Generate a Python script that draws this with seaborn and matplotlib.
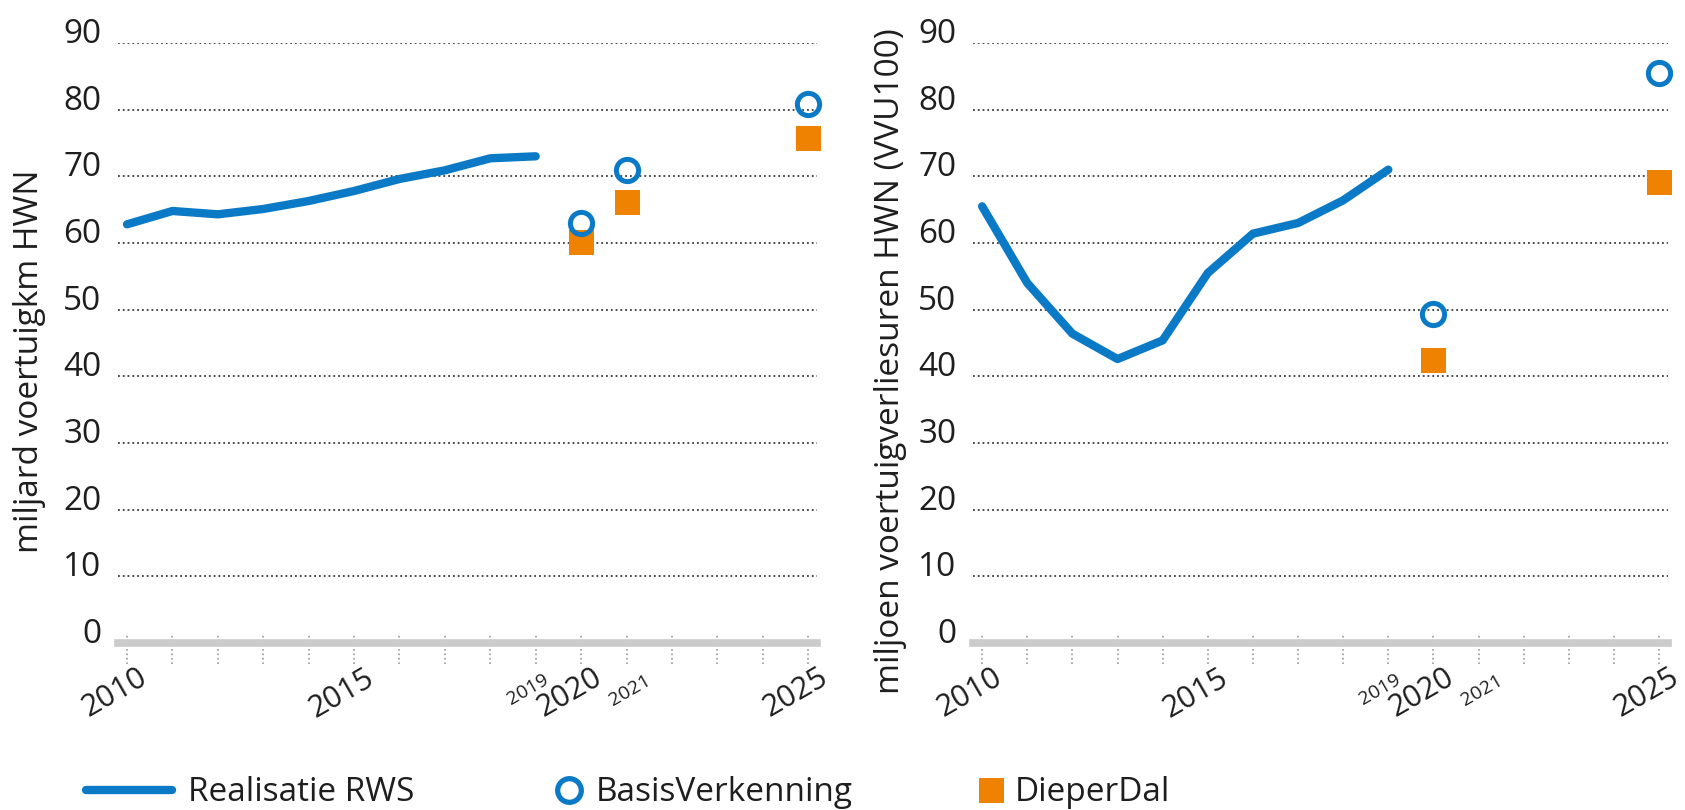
import matplotlib
matplotlib.use('Agg')
import matplotlib.pyplot as plt
import seaborn as sns
from matplotlib.lines import Line2D
from matplotlib.transforms import ScaledTranslation, blended_transform_factory

# realised values 2010-2019
years_real = list(range(2010, 2020))
km_real = [62.8, 64.8, 64.3, 65.1, 66.3, 67.8, 69.6, 70.9, 72.7, 73.0]
vvu_real = [65.5, 54.0, 46.4, 42.6, 45.4, 55.5, 61.4, 63.0, 66.4, 71.0]

# scenario values
km_scen_years = [2020, 2021, 2025]
km_basis = [63.0, 70.9, 80.8]
km_dieper = [60.2, 66.1, 75.8]

vvu_scen_years = [2020, 2025]
vvu_basis = [49.3, 85.5]
vvu_dieper = [42.5, 69.2]

all_years = list(range(2010, 2026))
big_ticks = [2010, 2015, 2020, 2025]
small_ticks = [2019, 2021]
y_ticks = list(range(0, 91, 10))

BLUE = '#0a7ac6'
ORANGE = '#ef8200'
TEXT = '#1e1e1e'

sns.set_theme(style='white')
plt.rcParams['font.family'] = ['Open Sans', 'DejaVu Sans']

fig = plt.figure(figsize=(16.85, 8.10), dpi=100)
ax1 = fig.add_axes([0.070, 0.206, 0.415, 0.741])
ax2 = fig.add_axes([0.5775, 0.206, 0.4125, 0.741])


def draw_panel(ax, real, scen_years, basis, dieper, ylabel, label_x):
    sns.lineplot(x=years_real, y=real, ax=ax, color=BLUE, lw=6,
                 solid_capstyle='round', solid_joinstyle='round', zorder=3)
    sns.lineplot(x=scen_years, y=dieper, ax=ax, marker='s', linestyle='',
                 color=ORANGE, markersize=18, markeredgewidth=0,
                 zorder=4, clip_on=False)
    sns.lineplot(x=scen_years, y=basis, ax=ax, marker='o', linestyle='',
                 color=BLUE, markerfacecolor='none', markeredgecolor=BLUE,
                 markersize=16, markeredgewidth=3.6, zorder=5, clip_on=False)

    ax.set_xlim(2009.8, 2025.2)
    ax.set_ylim(0, 90)
    ax.set_yticks(y_ticks)
    ax.yaxis.grid(True, ls=':', color='#3a3a3a', lw=1.3)
    ax.xaxis.grid(False)
    ax.set_axisbelow(True)
    for s in ['left', 'top', 'right']:
        ax.spines[s].set_visible(False)
    ax.spines['bottom'].set_color('#cbcbcb')
    ax.spines['bottom'].set_linewidth(5.5)

    ax.tick_params(axis='y', length=0, pad=12, labelsize=24, labelcolor=TEXT)
    for lbl in ax.get_yticklabels():
        lbl.set_va('baseline')

    ax.set_xticks(big_ticks)
    ax.set_xticklabels([str(t) for t in big_ticks], rotation=30,
                       ha='center', va='center')
    ax.tick_params(axis='x', length=0, pad=36, labelsize=22, labelcolor=TEXT)
    shift = ScaledTranslation(-0.12, 0, fig.dpi_scale_trans)
    for lbl in ax.get_xticklabels():
        lbl.set_transform(lbl.get_transform() + shift)

    # dotted year ticks across the axis line
    trans = blended_transform_factory(ax.transData, ax.transAxes)
    ax.vlines(all_years, -0.035, 0.017, transform=trans, linestyles=':',
              colors='#9a9a9a', lw=1.2, clip_on=False, zorder=1)

    # small 2019 / 2021 labels around 2020
    for yr, dx, dy in zip(small_ticks, [-0.08, 0.03], [-0.46, -0.47]):
        ax.text(yr, 0, str(yr), rotation=30, ha='center', va='center',
                fontsize=14, color=TEXT,
                transform=trans + ScaledTranslation(dx, dy, fig.dpi_scale_trans))

    ax.set_xlabel('')
    ax.set_ylabel(ylabel, fontsize=24, color=TEXT)
    ax.yaxis.set_label_coords(label_x, 0.47)


draw_panel(ax1, km_real, km_scen_years, km_basis, km_dieper,
           'miljard voertuigkm HWN', -0.103)
draw_panel(ax2, vvu_real, vvu_scen_years, vvu_basis, vvu_dieper,
           'miljoen voertuigverliesuren HWN (VVU100)', -0.095)

# legend, one entry each so the handle sizes can differ
h_line = Line2D([], [], color=BLUE, lw=6)
h_basis = Line2D([], [], marker='o', ls='', markerfacecolor='none',
                 markeredgecolor=BLUE, markersize=17, markeredgewidth=3.8)
h_dieper = Line2D([], [], marker='s', ls='', color=ORANGE, markersize=18,
                  markeredgewidth=0)

for h, lab, x0, hl, pad in [(h_line, 'Realisatie RWS', 0.051, 2.58, 0.48),
                            (h_basis, 'BasisVerkenning', 0.328, 1.0, 0.28),
                            (h_dieper, 'DieperDal', 0.578, 1.0, 0.22)]:
    fig.legend([h], [lab], loc='center left', bbox_to_anchor=(x0, 0.021),
               frameon=False, fontsize=24, handlelength=hl,
               handletextpad=pad, borderpad=0, borderaxespad=0,
               labelcolor=TEXT)

fig.savefig('out.png', dpi=100)
